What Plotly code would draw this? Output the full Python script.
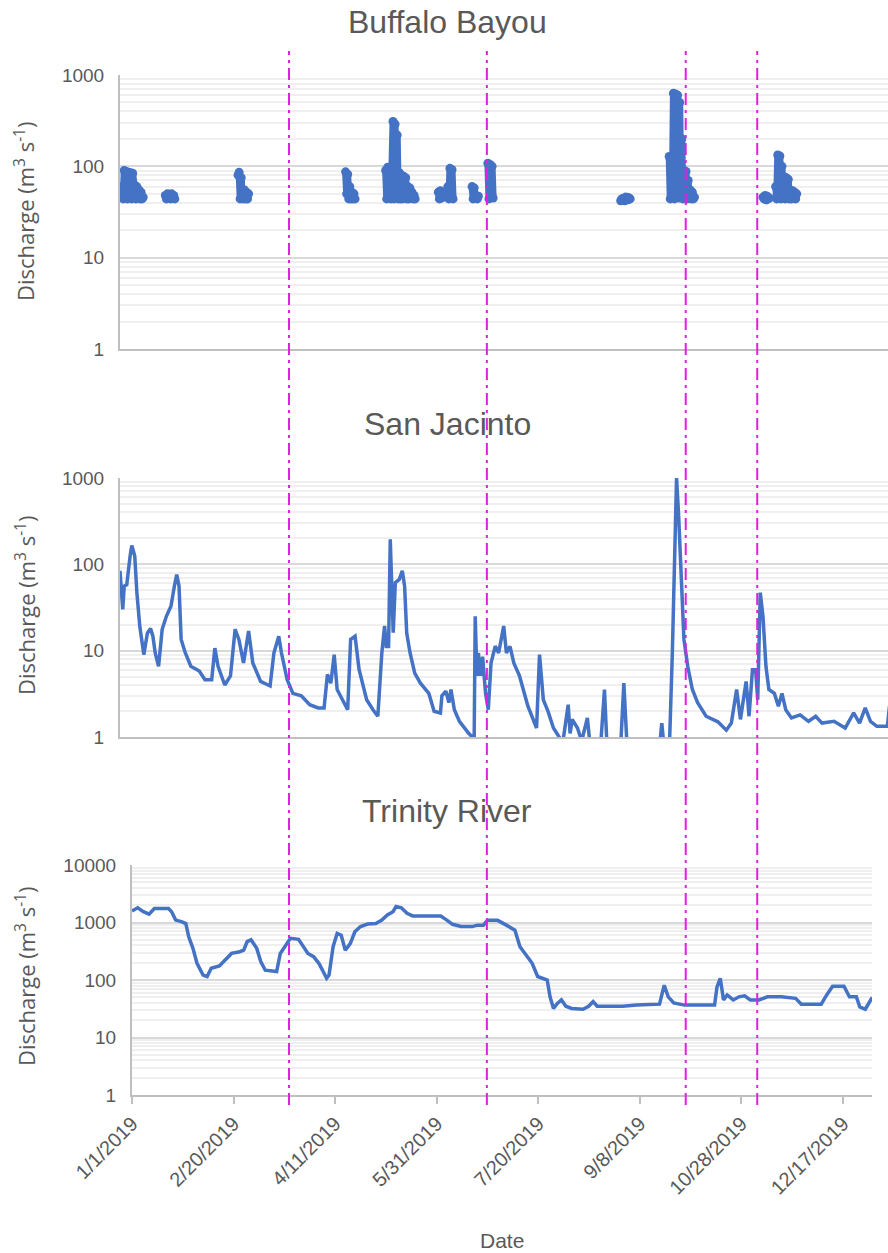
import pandas as pd
import plotly.graph_objects as go

BASE = pd.Timestamp("2019-01-01")

# ---------------- data (day offsets from 1/1/2019, discharge m3/s) ----------------
bb_days = [0, 0.5, 1, 1.5, 2, 2.5, 3, 3.5, 4, 4.5, 5, 5.5, 6, 6.5, 7, 7.5, 8, 8.5, 9, 9.5, 10, 10.5, 11, None,
           21.5, 22, 22.5, 23, 23.5, 24, 24.5, 25, 25.5, 26, None,
           56, 56.5, 57, 57.5, 58, 58.5, 59, 59.5, 60, 60.5, 61, None,
           107, 107.5, 108, 108.5, 109, 109.5, 110, 110.5, 111, 111.5, None,
           126, 126.5, 127, 127.5, 128, 128.5, 129, 129.5, 130, 130.5, 131, 131.5, 132, 132.5, 133, 133.5,
           134, 134.5, 135, 135.5, 136, 136.5, 137, 137.5, 138, 138.5, 139, 139.5, 140, None,
           151, 151.5, 152, 152.5, 153, None,
           155.5, 156, 156.5, 157, 157.5, 158, None,
           167, 167.5, 168, 168.5, 169, 169.5, 170, None,
           174.5, 175, 175.5, 176, 176.5, 177, None,
           237.5, 238, 238.5, 239, 239.5, 240, 240.5, 241, 241.5, 242, None,
           260.5, 261, 261.5, 262, 262.5, 263, 263.5, 264, 264.5, 265, 265.5, 266, 266.5, 267, 267.5,
           268, 268.5, 269, 269.5, 270, 270.5, 271, 271.5, 272, 272.5, None,
           305, 305.5, 306, 306.5, 307, 307.5, 308, None,
           311, 311.5, 312, 312.5, 313, 313.5, 314, 314.5, 315, 315.5, 316, 316.5, 317, 317.5, 318, 318.5,
           319, 319.5, 320, 320.5, 321]
bb_q = [55, 46, 60, 44, 90, 50, 88, 44, 86, 52, 85, 44, 84, 55, 62, 44, 60, 46, 55, 44, 52, 44, 46, None,
        48, 44, 50, 45, 49, 44, 50, 45, 48, 44, None,
        80, 86, 44, 75, 48, 44, 55, 44, 52, 44, 50, None,
        87, 50, 82, 44, 60, 44, 52, 44, 50, 44, None,
        90, 44, 98, 46, 95, 44, 100, 310, 44, 290, 60, 220, 44, 85, 44, 80,
        44, 78, 46, 75, 44, 60, 44, 58, 45, 52, 44, 48, 44, None,
        52, 44, 54, 45, 50, None,
        60, 44, 95, 46, 92, 44, None,
        60, 44, 58, 46, 48, 44, 47, None,
        108, 44, 105, 46, 100, 45, None,
        42, 44, 43, 45, 42, 44, 46, 43, 45, 44, None,
        128, 44, 120, 46, 630, 44, 620, 50, 600, 45, 500, 60, 200, 44, 91,
        46, 88, 44, 70, 45, 55, 44, 52, 44, 46, None,
        46, 44, 48, 43, 47, 44, 45, None,
        60, 44, 133, 46, 130, 44, 100, 46, 77, 44, 75, 46, 72, 44, 55, 44,
        54, 45, 52, 44, 50]

sj_days = [0, 0.5, 1.3, 2, 3.2, 4.8, 5.6, 7, 8, 9.4, 11.3, 13, 14.5, 15.6, 16.7, 18.3, 20, 22, 24.2, 25.8,
           26.9, 28, 29, 31, 33.6, 37.6, 40.3, 43.5, 45, 46.5, 49.7, 52.4, 54.6, 56.4, 58.6, 61, 63, 66.7,
           71.2, 73, 75.3, 76.6, 79.3, 82, 86, 90, 94, 96.8, 98.4, 100, 101.6, 103, 106, 108, 109.4, 111.5,
           113.4, 117, 120, 122.3, 124.2, 125.5, 126.3, 127.4, 128.2, 129, 129.6, 130.6, 132.5, 133.9, 135,
           136, 137.6, 139.8, 142.5, 146.5, 149, 152, 152.7, 154.6, 156, 157, 158.6, 161, 165.3, 168, 168.5,
           169.3, 170, 171, 172, 173.4, 174.7, 176, 178, 179.6, 182, 183.3, 185, 186.8, 189.5, 193.5, 197.6,
           199, 200.8, 203, 205.6, 208.3, 210, 212.6, 213.5, 214.5, 217, 219, 221.7, 223, 228, 229.8, 231,
           237.5, 239, 240.5, 245, 256, 257, 258, 260.7, 262, 263, 264, 265, 266, 267.5, 269.3, 271.5, 274,
           278, 283.6, 287.6, 290, 292.5, 294.3, 297, 298.4, 300, 301.5, 302.5, 303.7, 305, 306.4, 307.8,
           310.4, 312.3, 314, 315.8, 318.5, 322.6, 326.6, 330, 333, 338.7, 344, 348, 350.8, 353.5, 356,
           359, 364, 365]
sj_q = [84, 50, 30, 56, 58, 125, 165, 125, 47, 19, 9, 16, 18, 14.7, 9.4, 6.6, 17.7, 25, 33, 56,
        76, 56, 13.5, 9.4, 6.6, 5.8, 4.6, 4.6, 10.7, 6.6, 4.0, 5.1, 17.7, 13.5, 7.2, 16.9, 7.2, 4.4,
        3.9, 9.4, 14.7, 9.4, 4.6, 3.2, 3.0, 2.37, 2.17, 2.17, 5.3, 4.2, 9.0, 3.55, 2.5, 2.07, 13.5, 14.7,
        6.05, 2.7, 2.07, 1.74, 9.4, 19.3, 11.2, 11.2, 195, 40, 16.2, 61.5, 67, 84, 56,
        16, 9.4, 5.5, 4.2, 3.2, 1.99, 1.9, 3.0, 3.4, 2.5, 3.55, 2.07, 1.52, 1.11, 0.95, 25,
        5.1, 9.4, 5.1, 8.5, 3.2, 2.07, 7.2, 11.3, 9.4, 19.3, 9.4, 11.2, 7.2, 5.1, 2.27, 1.27,
        9.0, 2.7, 1.99, 1.27, 1.0, 0.85, 2.37, 1.1, 1.6, 1.27, 0.9, 1.66, 0.8, 0.8, 3.55, 0.8,
        0.8, 4.2, 0.8, 0.7, 0.8, 1.45, 0.8, 0.9, 9.4, 96, 1000, 365, 96, 13.5, 6.6, 3.55, 2.5,
        1.74, 1.5, 1.2, 1.45, 3.55, 1.6, 4.4, 1.74, 6.0, 6.0, 2.7, 47, 25, 6.6, 3.55,
        3.2, 2.27, 3.2, 2.07, 1.66, 1.8, 1.52, 1.74, 1.45, 1.52, 1.27, 1.9, 1.45, 2.17, 1.52,
        1.33, 1.33, 2.27]

tr_days = [0, 2.8, 5.6, 8.4, 11, 18, 19.5, 21.5, 24.3, 26.5, 27.9, 30, 32, 35, 37, 39, 43, 46, 49, 53,
           55, 56.7, 58.6, 61.4, 63.4, 65.6, 71.2, 73, 75.4, 78, 82, 86.6, 89.4, 92, 95.8, 97, 99, 101,
           103, 105, 107.5, 109.7, 112.5, 116, 120, 123, 125.7, 128.5, 130, 132.6, 135.4, 138.2, 146.6,
           152, 155, 157.8, 162, 167.5, 170, 173, 175, 180, 184.3, 188.5, 191, 194, 197, 199.7, 202.5,
           204.4, 205.8, 207.5, 209.4, 211.4, 213.6, 216.4, 222, 224.8, 227, 229, 236, 241.5, 248.5,
           255.5, 259.7, 262, 264, 266.7, 272, 280.6, 286.8, 288, 289.6, 291.2, 293, 296, 298.8, 301.6,
           304.4, 308.6, 312.8, 319.7, 326.7, 329.5, 339.3, 342, 344.9, 350.5, 353.2, 356.6, 358.3, 361,
           363, 364.4]
tr_q = [1585, 1800, 1540, 1400, 1750, 1750, 1540, 1100, 1035, 960, 570, 355, 195, 122, 115, 160, 175,
        222, 290, 310, 330, 465, 500, 355, 210, 148, 140, 290, 400, 530, 510, 290, 255, 195, 107, 122,
        380, 645, 600, 330, 435, 690, 850, 940, 960, 1100, 1350, 1540, 1900, 1800, 1450, 1300, 1300,
        1300, 1100, 930, 850, 850, 900, 900, 1090, 1090, 900, 735, 380, 270, 195, 115, 107, 100, 51,
        32, 39, 45, 35, 32, 31, 35, 42, 35, 35, 35, 36.6, 38, 38, 81, 51, 40, 36.6, 36.6, 36.6, 76, 107,
        45, 55, 45, 51, 53, 45, 45, 51, 51, 48, 38, 38, 55, 78, 78, 51, 51, 34, 31, 40, 50]

tick_days = [0, 50, 100, 150, 200, 250, 300, 350]
tick_labels = ["1/1/2019", "2/20/2019", "4/11/2019", "5/31/2019",
               "7/20/2019", "9/8/2019", "10/28/2019", "12/17/2019"]
marker_days = [77.3, 174.7, 272.6, 307.8]   # magenta reference lines (dates)
panel_titles = ["Buffalo Bayou", "San Jacinto", "Trinity River"]


def to_dates(days):
    return [None if d is None else BASE + pd.Timedelta(days=d) for d in days]


W, H = 888, 1253
BLUE = "#4472C4"
GRAY_TXT = "#595959"
TICK_FONT = dict(family="Liberation Sans", size=19, color=GRAY_TXT)
DATE_FONT = dict(family="Liberation Sans", size=20, color=GRAY_TXT)


def px_x(p):
    return p / W


def px_y(p):
    return 1 - p / H


fig = go.Figure()
fig.add_trace(go.Scatter(x=to_dates(bb_days), y=bb_q, mode="lines+markers", connectgaps=False,
                         line=dict(color=BLUE, width=7), marker=dict(color=BLUE, size=9),
                         xaxis="x", yaxis="y", showlegend=False))
fig.add_trace(go.Scatter(x=to_dates(sj_days), y=sj_q, mode="lines",
                         line=dict(color=BLUE, width=3.5), xaxis="x2", yaxis="y2", showlegend=False))
fig.add_trace(go.Scatter(x=to_dates(tr_days), y=tr_q, mode="lines",
                         line=dict(color=BLUE, width=3.5), xaxis="x3", yaxis="y3", showlegend=False))

xrange = [BASE, BASE + pd.Timedelta(days=364.3)]


def yax(domain, rng, anchor):
    return dict(type="log", range=rng, domain=domain, anchor=anchor, dtick=1,
                tickformat="d", automargin=False,
                showgrid=True, gridcolor="#d9d9d9", gridwidth=2,
                minor=dict(dtick="D1", showgrid=True, gridcolor="#efefef", gridwidth=2, ticks=""),
                showline=True, linecolor="#bfbfbf", linewidth=2,
                ticks="", tickfont=TICK_FONT, ticklabelstandoff=10, zeroline=False)


def xax(domain, anchor, labels):
    d = dict(type="date", range=xrange, domain=domain, anchor=anchor, showgrid=False,
             automargin=False, showline=True, linecolor="#bfbfbf", linewidth=2, zeroline=False)
    if labels:
        d.update(tickmode="array", tickvals=to_dates(tick_days), ticktext=tick_labels,
                 tickangle=-45, ticks="outside", ticklen=7, tickwidth=2, tickcolor="#bfbfbf",
                 tickfont=DATE_FONT)
    else:
        d.update(showticklabels=False, ticks="")
    return d


fig.update_layout(
    width=W, height=H, margin=dict(l=0, r=0, t=0, b=0, autoexpand=False),
    paper_bgcolor="white", plot_bgcolor="white",
    xaxis=xax([px_x(120), 1.0], "y", False),
    yaxis=yax([px_y(349), px_y(75)], [0, 3], "x"),
    xaxis2=xax([px_x(120), 1.0], "y2", False),
    yaxis2=yax([px_y(737), px_y(478)], [0, 3], "x2"),
    xaxis3=xax([px_x(132), px_x(872)], "y3", True),
    yaxis3=yax([px_y(1095), px_y(865)], [0, 4], "x3"),
)

# panel titles and axis titles
title_y = [22, 424, 811]
for t, ty in zip(panel_titles, title_y):
    fig.add_annotation(text=t, x=px_x(447), y=px_y(ty), xref="paper", yref="paper",
                       xanchor="center", yanchor="middle", showarrow=False,
                       font=dict(family="Liberation Sans", size=32, color=GRAY_TXT))
ytitle_y = [212, 606, 977]
for ty in ytitle_y:
    fig.add_annotation(text="Discharge (m<sup>3</sup> s<sup>-1</sup>)", x=px_x(25), y=px_y(ty),
                       xref="paper", yref="paper", xanchor="center", yanchor="middle",
                       showarrow=False, textangle=-90,
                       font=dict(family="Open Sans", size=22, color=GRAY_TXT))
fig.add_annotation(text="Date", x=px_x(502), y=px_y(1240), xref="paper", yref="paper",
                   xanchor="center", yanchor="middle", showarrow=False,
                   font=dict(family="Liberation Sans", size=21, color=GRAY_TXT))

# magenta vertical reference lines spanning all panels (placed on bottom panel's date scale)
for d in marker_days:
    fig.add_shape(type="line", xref="x3", yref="paper", x0=BASE + pd.Timedelta(days=d),
                  x1=BASE + pd.Timedelta(days=d), y0=px_y(1105), y1=px_y(51),
                  line=dict(color="#E020E0", width=2, dash="12px,5px,3px,5px"), layer="above")

fig.write_html("out.html")
